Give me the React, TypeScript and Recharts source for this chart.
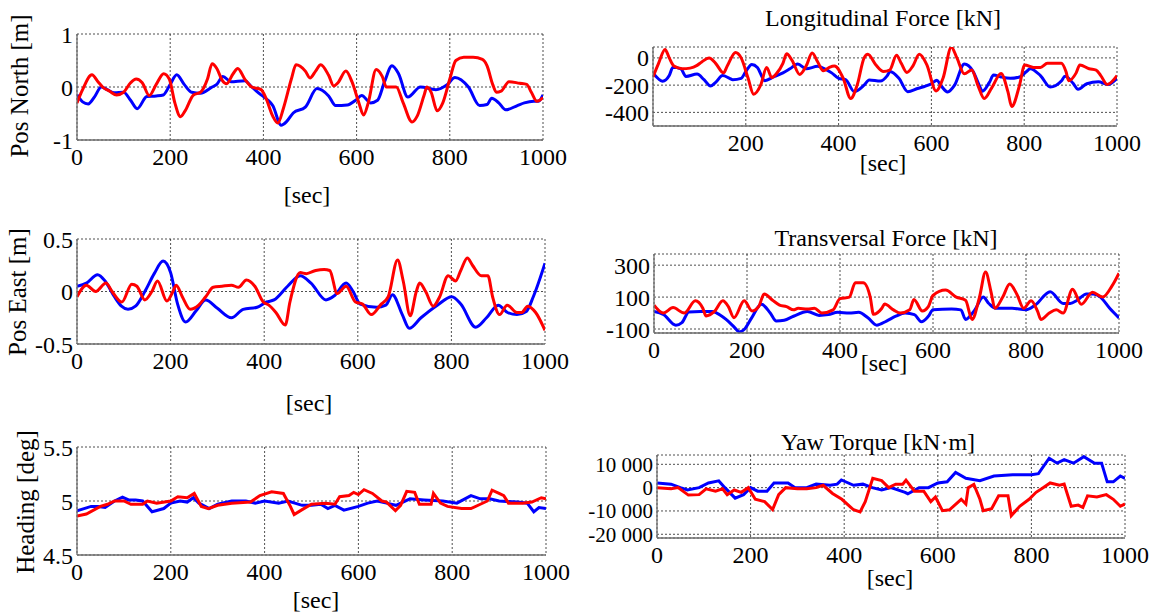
import React from 'react';
import { LineChart, Line, XAxis, YAxis, CartesianGrid } from 'recharts';

type P = [number, number][];

const timeTicks = [0, 200, 400, 600, 800, 1000];
const timeTicksNoZero = [200, 400, 600, 800, 1000];
const northTicks = [-1, 0, 1];
const eastTicks = [-0.5, 0, 0.5];
const headingTicks = [4.5, 5, 5.5];
const longTicks = [-400, -200, 0];
const transTicks = [-100, 100, 300];
const yawTicks = [-20000, -10000, 0, 10000];

const northBlue: P = [[0,-0.15],[12,-0.28],[24,-0.32],[38,-0.18],[52,0.0],[65,-0.05],[80,-0.11],[100,-0.1],[115,-0.25],[129,-0.41],[150,-0.18],[170,-0.17],[185,-0.15],[200,0.05],[214,0.23],[230,0.05],[246,-0.1],[265,-0.12],[290,0.0],[300,0.05],[313,0.2],[330,0.1],[360,0.12],[375,0.0],[395,-0.15],[410,-0.25],[420,-0.35],[438,-0.72],[450,-0.65],[464,-0.49],[490,-0.38],[515,-0.03],[540,-0.17],[555,-0.35],[580,-0.34],[598,-0.25],[611,-0.16],[630,-0.3],[645,-0.25],[660,0.1],[676,0.4],[690,0.25],[710,-0.19],[737,0.0],[770,-0.05],[795,0.05],[811,0.18],[840,0.0],[864,-0.35],[880,-0.33],[890,-0.21],[905,-0.3],[920,-0.43],[945,-0.35],[960,-0.3],[980,-0.27],[990,-0.27],[1000,-0.15]];
const northRed: P = [[0,-0.3],[12,-0.05],[32,0.23],[45,0.1],[55,0.0],[70,-0.08],[85,-0.15],[100,-0.1],[115,0.08],[127,0.15],[140,0.08],[155,-0.16],[170,0.05],[186,0.25],[198,0.15],[210,-0.3],[222,-0.56],[232,-0.45],[250,-0.15],[265,-0.1],[280,0.15],[290,0.44],[300,0.35],[312,0.12],[321,0.06],[335,0.25],[345,0.35],[360,0.15],[375,0.0],[395,-0.05],[405,-0.2],[420,-0.55],[431,-0.68],[443,-0.4],[460,0.15],[470,0.42],[490,0.3],[500,0.17],[512,0.3],[523,0.42],[540,0.22],[551,0.02],[560,0.08],[577,0.3],[590,0.1],[605,-0.3],[615,-0.53],[625,-0.3],[642,0.33],[655,0.2],[664,0.0],[685,0.0],[700,-0.3],[719,-0.66],[730,-0.55],[745,-0.15],[751,0.0],[760,-0.1],[773,-0.45],[785,-0.3],[800,0.15],[813,0.5],[830,0.56],[850,0.56],[870,0.52],[880,0.4],[892,0.05],[900,-0.1],[910,-0.08],[927,0.1],[950,0.07],[965,0.05],[975,-0.1],[987,-0.27],[1000,-0.2]];

const eastBlue: P = [[0,0.05],[20,0.08],[44,0.16],[60,0.1],[80,-0.05],[95,-0.14],[109,-0.17],[125,-0.14],[145,0.0],[165,0.17],[184,0.29],[200,0.18],[215,-0.12],[232,-0.29],[255,-0.18],[275,-0.08],[300,-0.16],[330,-0.25],[355,-0.17],[385,-0.15],[405,-0.1],[421,-0.08],[450,0.05],[477,0.15],[500,0.08],[532,-0.08],[550,-0.04],[575,0.08],[590,0.0],[605,-0.12],[640,-0.15],[660,-0.13],[674,-0.03],[695,-0.22],[710,-0.35],[735,-0.25],[770,-0.13],[801,-0.05],[820,-0.12],[852,-0.34],[875,-0.25],[900,-0.13],[920,-0.2],[940,-0.22],[960,-0.19],[975,-0.05],[1000,0.27]];
const eastRed: P = [[0,-0.05],[20,0.06],[40,0.0],[62,0.08],[75,0.0],[96,-0.1],[117,0.07],[128,0.05],[145,-0.08],[160,0.0],[172,0.1],[192,-0.09],[205,0.0],[212,0.06],[225,-0.05],[242,-0.17],[260,-0.13],[275,-0.05],[291,0.04],[310,0.05],[330,0.06],[345,0.04],[362,0.11],[380,0.05],[398,-0.1],[410,-0.13],[425,-0.2],[445,-0.32],[455,-0.1],[477,0.18],[490,0.17],[510,0.2],[528,0.21],[540,0.2],[556,-0.02],[575,0.05],[595,-0.1],[610,-0.12],[629,-0.22],[650,-0.12],[665,-0.05],[685,0.3],[697,0.1],[712,-0.23],[725,0.0],[732,0.08],[745,0.0],[761,-0.14],[775,-0.05],[793,0.15],[809,0.1],[820,0.2],[834,0.32],[845,0.25],[864,0.15],[878,0.15],[888,-0.05],[903,-0.22],[919,-0.13],[940,-0.2],[950,-0.2],[963,-0.14],[980,-0.2],[1000,-0.37]];

const headBlue: P = [[0,4.91],[15,4.93],[30,4.95],[45,4.95],[60,4.94],[80,5.0],[97,5.035],[110,5.01],[125,5.01],[140,5.0],[160,4.9],[185,4.93],[200,4.98],[220,5.0],[235,4.99],[248,5.03],[260,4.98],[282,4.93],[300,4.97],[330,5.0],[360,5.0],[380,4.98],[400,5.0],[430,4.98],[450,5.0],[480,4.96],[500,4.96],[520,4.97],[535,4.93],[550,4.96],[569,4.915],[600,4.95],[620,4.98],[640,5.0],[660,4.98],[680,4.96],[710,5.02],[740,5.01],[780,5.0],[810,4.98],[840,5.05],[860,5.02],[880,5.02],[900,5.0],[940,4.99],[960,4.98],[974,4.9],[985,4.94],[1000,4.93]];
const headRed: P = [[0,4.86],[20,4.88],[50,4.95],[65,4.97],[80,5.0],[100,5.0],[115,4.97],[140,4.97],[150,5.0],[170,4.98],[200,5.0],[215,5.04],[235,5.03],[250,5.07],[265,4.95],[280,4.93],[300,4.96],[330,4.98],[370,4.99],[390,5.05],[415,5.085],[440,5.07],[455,4.95],[463,4.875],[480,4.92],[500,4.97],[530,4.98],[550,4.97],[560,5.04],[580,5.05],[590,5.08],[600,5.06],[612,5.105],[630,5.07],[650,5.0],[660,4.99],[679,4.91],[690,4.96],[703,5.09],[720,5.08],[730,4.97],[755,4.97],[760,5.07],[775,4.98],[790,4.95],[820,4.93],[840,4.93],[860,4.97],[875,5.0],[885,5.1],[900,5.07],[910,5.05],[920,4.98],[950,4.98],[970,4.99],[990,5.03],[1000,5.02]];

const longBlue: P = [[0,-110],[21,-171],[35,-130],[43,-69],[60,-80],[71,-136],[95,-119],[110,-160],[124,-207],[135,-180],[150,-130],[165,-150],[172,-160],[190,-150],[200,-100],[213,-48],[225,-70],[241,-167],[260,-140],[280,-110],[295,-80],[312,-45],[330,-80],[355,-62],[370,-80],[385,-110],[400,-150],[415,-160],[434,-248],[455,-200],[466,-162],[490,-170],[505,-130],[511,-100],[530,-150],[549,-248],[570,-225],[585,-210],[600,-190],[612,-164],[620,-200],[635,-250],[650,-200],[671,-45],[690,-100],[703,-200],[710,-245],[725,-180],[734,-126],[750,-140],[770,-150],[790,-140],[805,-100],[813,-79],[835,-130],[856,-214],[880,-170],[888,-135],[905,-185],[916,-231],[935,-190],[960,-175],[980,-195],[1000,-150]];
const longRed: P = [[0,-140],[12,-40],[26,62],[35,0],[45,-60],[63,-80],[80,-75],[95,-55],[105,-30],[121,0],[135,-40],[152,-110],[160,-60],[178,40],[190,0],[205,-150],[217,-267],[232,-200],[245,-71],[256,-145],[265,-120],[280,-40],[288,31],[300,-20],[316,-121],[330,-60],[343,36],[355,-30],[367,-95],[380,-70],[391,-60],[410,-150],[426,-298],[440,-200],[455,0],[463,26],[480,-50],[497,-100],[510,-90],[525,19],[535,-40],[547,-107],[560,-60],[574,26],[590,-50],[610,-243],[625,-150],[643,79],[655,0],[671,-117],[687,-88],[700,-200],[714,-298],[730,-220],[750,-114],[765,-250],[773,-357],[790,-200],[801,-52],[820,-70],[835,-70],[850,-40],[880,-40],[890,-100],[896,-167],[912,-110],[920,-52],[940,-80],[955,-90],[965,-130],[979,-195],[1000,-130]];

const transBlue: P = [[0,10],[20,-8],[47,-76],[60,-60],[75,7],[100,10],[125,10],[135,0],[155,-40],[170,-80],[184,-118],[195,-100],[210,-30],[231,55],[250,0],[263,-50],[280,-45],[300,-20],[330,10],[355,-15],[375,-10],[395,5],[420,0],[440,5],[460,-30],[479,-76],[500,-50],[520,-20],[540,0],[560,-10],[575,-55],[590,-20],[600,20],[640,25],[660,20],[670,-40],[690,20],[708,100],[720,60],[735,30],[770,30],[800,20],[820,50],[852,134],[880,60],[895,60],[910,80],[930,120],[945,119],[960,100],[980,30],[1000,-30]];
const transRed: P = [[0,49],[20,0],[41,34],[65,0],[89,77],[105,30],[112,-18],[130,10],[148,77],[160,40],[172,-29],[194,77],[211,13],[225,40],[237,119],[255,80],[270,50],[285,40],[300,20],[310,30],[330,25],[345,30],[361,0],[385,20],[400,90],[420,100],[433,190],[450,190],[465,100],[472,-8],[490,30],[496,56],[515,20],[530,0],[550,20],[559,85],[577,13],[590,40],[600,110],[627,144],[650,100],[670,80],[684,-40],[700,100],[713,257],[725,130],[733,30],[750,100],[765,182],[780,120],[795,30],[811,77],[825,10],[832,-40],[850,0],[865,20],[880,0],[900,149],[919,55],[943,130],[965,100],[985,170],[1000,250]];

const yawBlue: P = [[0,2000],[30,1500],[50,0],[65,-1000],[90,0],[110,2000],[132,2900],[145,0],[167,-4500],[185,-3000],[200,0],[215,-1500],[235,-1500],[250,2000],[280,2000],[295,0],[320,0],[340,1500],[370,1000],[385,1500],[394,3300],[420,1000],[440,1500],[460,0],[480,-1000],[500,0],[530,-2000],[536,-2600],[560,0],[580,0],[600,2000],[620,2500],[638,6500],[660,4000],[690,3000],[720,5000],[760,5500],[800,5500],[815,6000],[838,12600],[855,10500],[870,12000],[890,10500],[912,13300],[935,10500],[950,10500],[962,2500],[975,2500],[990,5000],[1000,4000]];
const yawRed: P = [[0,0],[30,-500],[45,0],[67,-3200],[90,-3000],[105,-500],[125,-1500],[140,-500],[150,-3000],[165,-1000],[180,-2000],[195,0],[210,-5000],[230,-6000],[247,-9400],[260,-3000],[275,0],[300,-500],[320,-500],[340,0],[355,1000],[375,-2500],[395,-5000],[420,-9500],[434,-10400],[445,-6000],[461,4000],[480,3000],[495,0],[510,1500],[525,1500],[532,3200],[550,-1500],[570,-1500],[585,-6000],[595,-4000],[610,-9900],[625,-9500],[650,-5000],[660,-7000],[665,0],[677,1400],[690,-5000],[697,-9900],[715,-9000],[730,-3500],[750,-3500],[757,-12000],[775,-8000],[795,-5000],[810,-2000],[825,0],[840,2000],[860,1000],[870,1500],[885,-8000],[900,-7500],[910,-8500],[920,-3500],[940,-4000],[960,-3000],[975,-5000],[990,-8000],[1000,-7000]];

const FONT = "'Liberation Serif', 'Times New Roman', serif";
const BOX = '#6e6e6e';
const toRows = (p: P) => p.map(([t, v]) => ({ t, v }));

const fmtThousands = (v: number) => {
  if (v === 0) return '0';
  const s = v < 0 ? '-' : '';
  return s + Math.abs(v / 1000) + ' 000';
};

type Box = { l: number; t: number; w: number; h: number };

function Panel(props: {
  box: Box; yDomain: [number, number]; yTicks: number[]; xTicks: number[];
  blue: P; red: P; yFmt?: (v: number) => string; curve: 'monotone' | 'linear'; yFont?: number;
}) {
  const { box, yDomain, yTicks, xTicks, blue, red, yFmt, curve, yFont = 24 } = props;
  const padL = 95, padR = 34, padT = 16, padB = 36;
  const tick = { fontFamily: FONT, fontSize: 24, fill: '#000' };
  const ytick = { fontFamily: FONT, fontSize: yFont, fill: '#000' };
  return (
    <div style={{ position: 'absolute', left: box.l - padL, top: box.t - padT }}>
      <LineChart width={box.w + padL + padR} height={box.h + padT + padB}
        margin={{ top: padT, right: padR, left: 0, bottom: 0 }}>
        <CartesianGrid stroke="#222" strokeWidth={0.8} strokeDasharray="2 2" />
        <XAxis xAxisId={0} type="number" dataKey="t" domain={[0, 1000]} ticks={xTicks} allowDataOverflow
          tickLine={false} tickSize={0} tickMargin={8} height={padB} interval={0}
          axisLine={{ stroke: BOX, strokeWidth: 1.3 }} tick={tick} />
        <XAxis xAxisId="top" orientation="top" type="number" domain={[0, 1000]} height={0}
          tick={false} tickLine={false} axisLine={{ stroke: BOX, strokeWidth: 1.3 }} />
        <YAxis yAxisId={0} type="number" domain={yDomain} ticks={yTicks} allowDataOverflow
          tickLine={false} tickSize={0} tickMargin={4} width={padL} interval={0}
          tickFormatter={yFmt} axisLine={{ stroke: BOX, strokeWidth: 1.3 }} tick={ytick} />
        <YAxis yAxisId="right" orientation="right" type="number" domain={[0, 1]} width={0}
          tick={false} tickLine={false} axisLine={{ stroke: BOX, strokeWidth: 1.3 }} />
        <Line xAxisId={0} yAxisId={0} data={toRows(blue)} dataKey="v" type={curve} stroke="#0000ff"
          strokeWidth={3} dot={false} isAnimationActive={false} />
        <Line xAxisId={0} yAxisId={0} data={toRows(red)} dataKey="v" type={curve} stroke="#ff0000"
          strokeWidth={3} dot={false} isAnimationActive={false} />
      </LineChart>
    </div>
  );
}

function Txt(props: { x: number; y: number; size?: number; rotate?: boolean; children: React.ReactNode }) {
  const { x, y, size = 24, rotate, children } = props;
  return (
    <div style={{
      position: 'absolute', left: x, top: y, fontFamily: FONT, fontSize: size, lineHeight: 1,
      whiteSpace: 'nowrap', color: '#000',
      transform: `translate(-50%, -50%)${rotate ? ' rotate(-90deg)' : ''}`,
    }}>{children}</div>
  );
}

export default function App() {
  return (
    <div style={{ position: 'absolute', left: 0, top: 0, width: 1156, height: 615, background: '#fff', overflow: 'hidden' }}>
      <Panel box={{ l: 77, t: 34, w: 466, h: 106 }} yDomain={[-1, 1]} yTicks={northTicks} xTicks={timeTicks}
        blue={northBlue} red={northRed} curve="monotone" />
      <Panel box={{ l: 77, t: 239, w: 468, h: 105 }} yDomain={[-0.5, 0.5]} yTicks={eastTicks} xTicks={timeTicks}
        blue={eastBlue} red={eastRed} curve="monotone" />
      <Panel box={{ l: 77, t: 447, w: 469, h: 108 }} yDomain={[4.5, 5.5]} yTicks={headingTicks} xTicks={timeTicks}
        blue={headBlue} red={headRed} curve="linear" />
      <Panel box={{ l: 653, t: 47, w: 464, h: 79 }} yDomain={[-500, 80]} yTicks={longTicks} xTicks={timeTicksNoZero}
        blue={longBlue} red={longRed} curve="monotone" />
      <Panel box={{ l: 654, t: 254, w: 465, h: 79 }} yDomain={[-125, 370]} yTicks={transTicks} xTicks={timeTicks}
        blue={transBlue} red={transRed} curve="monotone" />
      <Panel box={{ l: 657, t: 455, w: 468, h: 83 }} yDomain={[-21600, 14000]} yTicks={yawTicks} xTicks={timeTicks}
        blue={yawBlue} red={yawRed} yFmt={fmtThousands} curve="linear" yFont={21} />

      <Txt x={19} y={86} size={25} rotate>Pos North [m]</Txt>
      <Txt x={17} y={292} size={25} rotate>Pos East [m]</Txt>
      <Txt x={25} y={502} size={25} rotate>Heading [deg]</Txt>
      <Txt x={307} y={195}>[sec]</Txt>
      <Txt x={309} y={403}>[sec]</Txt>
      <Txt x={316} y={600}>[sec]</Txt>
      <Txt x={883} y={18}>Longitudinal Force [kN]</Txt>
      <Txt x={883} y={163}>[sec]</Txt>
      <Txt x={886} y={238}>Transversal Force [kN]</Txt>
      <Txt x={884} y={363}>[sec]</Txt>
      <Txt x={878} y={442}>Yaw Torque [kN·m]</Txt>
      <Txt x={890} y={578}>[sec]</Txt>
    </div>
  );
}
